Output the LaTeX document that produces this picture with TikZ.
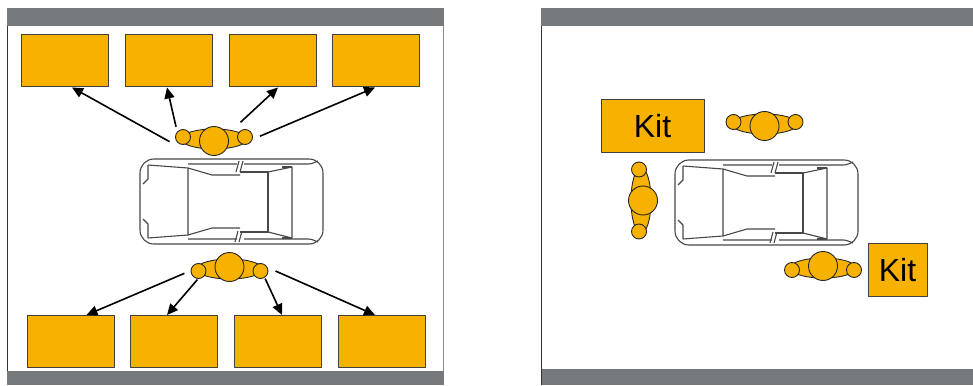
\documentclass[tikz,border=0pt]{standalone}
\usepackage{fontspec}
\newfontfamily\kitfont{Liberation Sans}
\usetikzlibrary{arrows.meta,shapes.geometric}

\definecolor{kitorange}{HTML}{F7B100}
\definecolor{barcolor}{HTML}{76797B}
\colorlet{carcolor}{black!72}

\begin{document}
\begin{tikzpicture}
  [x=1pt,y=-1pt,line join=round,
   % Styles
   bar/.style={fill=barcolor},
   post/.style={draw=black!75,fill=kitorange,line width=1pt,inner sep=0pt,
                minimum width=87pt,minimum height=52pt},
   kit/.style={post,font=\kitfont\fontsize{32}{36}\selectfont},
   reach/.style={ellipse,inner sep=0pt,outer sep=0pt},
   person/.style={draw=black!85,fill=kitorange,line width=0.9pt},
   carline/.style={draw=carcolor,line width=1.1pt},
   arrow/.style={-{Triangle[length=11pt,width=10pt]},line width=1.6pt},
   % one mechanic seen from above, head towards +y
   worker/.pic={
     \filldraw[person] (0,2) ellipse [x radius=33,y radius=10];
     \filldraw[person] (-31,0) circle [radius=7.5];
     \filldraw[person] (31,0) circle [radius=7.5];
     \filldraw[person] (0,4) circle [radius=14.5];
   },
   % car seen from above, bonnet to the left
   car/.pic={
     \draw[carline,rounded corners=14pt] (0,0) rectangle (183,85);
     \draw[carline] (8,6) -- (8,20) -- (3,25) (3,60) -- (8,65) -- (8,79);
     \draw[carline] (8,6) -- (48,9) -- (48,76) -- (8,79);
     % windscreen and roof
     \draw[carline] (48,9) -- (72,16) -- (100,16);
     \draw[carline] (48,76) -- (72,69) -- (100,69);
     \draw[carline] (100,13) -- (128,13) -- (128,73) -- (100,73);
     \draw[carline] (128,13) -- (152,8) -- (152,79) -- (128,73);
     % doors and pillars
     \draw[carline] (48,5) -- (97,5) (104,5) -- (168,5) to[out=0,in=200] (178,2);
     \draw[carline] (48,80) -- (97,80) (104,80) -- (168,80) to[out=0,in=160] (178,83);
     \draw[carline] (96,13) -- (99,2) (100,13) -- (103,2);
     \draw[carline] (95,83) -- (98,72) (99,83) -- (102,72);
     \draw[carline] (142,8) -- (152,8) (142,79) -- (152,79);
   }]

  \useasboundingbox (0,0) rectangle (973,385);

  % Left panel: one mechanic fetching from every shelf
  \fill[bar] (7,8) rectangle (444,26);
  \fill[bar] (7,371) rectangle (444,385);
  \draw[black!80,line width=1pt] (7,26) -- (7,371);
  \draw[black!45,line width=1pt] (443,26) -- (443,371);

  \foreach \i/\x in {1/65,2/168.5,3/272.5,4/376}
    \node[post] (t\i) at (\x,61) {};
  \foreach \i/\x in {1/70.5,2/174,3/278,4/382}
    \node[post] (b\i) at (\x,341.5) {};

  \pic at (140,159) {car};

  \node[reach,minimum width=92pt,minimum height=36pt] (w1) at (214,137) {};
  \node[reach,minimum width=92pt,minimum height=24pt] (w2) at (229.5,271) {};
  \pic at (w1) {worker};
  \pic[rotate=180] at (w2) {worker};

  \draw[arrow] (w1.186) -- ([xshift=7]t1.south);
  \draw[arrow] (w1.165) -- ([xshift=-1.5]t2.south);
  \draw[arrow] (w1.29) -- ([xshift=5.5]t3.south);
  \draw[arrow] (w1.1) -- ([xshift=-1]t4.south);

  \draw[arrow] (w2.183) -- ([xshift=16]b1.north);
  \draw[arrow] (w2.195) -- ([xshift=-7]b2.north);
  \draw[arrow] (w2.-12) -- ([xshift=4]b3.north);
  \draw[arrow] (w2.0) -- ([xshift=-7]b4.north);

  % Right panel: kits brought to the car
  \fill[bar] (541,8) rectangle (973,26);
  \fill[bar] (541,369) rectangle (973,385);
  \draw[black!80,line width=1pt] (541,26) -- (541,385);

  \pic at (675,160) {car};

  \node[kit,minimum width=103pt] (k1) at (652.5,126) {Kit};
  \node[kit,minimum width=59pt,minimum height=53pt] (k2) at (897.5,270) {Kit};

  \node[reach,minimum width=92pt,minimum height=36pt] (w3) at (764.5,122) {};
  \node[reach,minimum width=36pt,minimum height=92pt] (w4) at (639,200.5) {};
  \node[reach,minimum width=92pt,minimum height=36pt] (w5) at (823,270) {};
  \pic at (w3) {worker};
  \pic[rotate=90] at (w4) {worker};
  \pic[rotate=180] at (w5) {worker};
\end{tikzpicture}
\end{document}
